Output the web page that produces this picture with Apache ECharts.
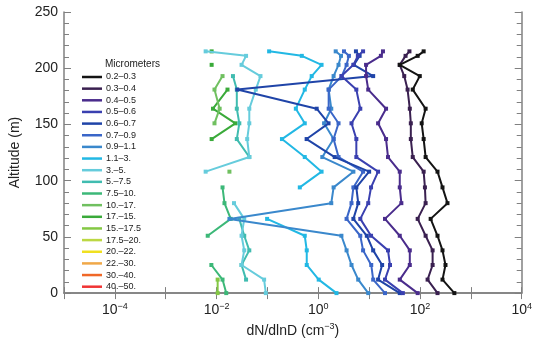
<!DOCTYPE html>
<html>
<head>
<meta charset="utf-8">
<script src="https://cdn.jsdelivr.net/npm/echarts@6/dist/echarts.min.js"></script>
<style>
  html, body { margin: 0; padding: 0; background: #fff; }
  #chart { width: 535px; height: 343px; }
</style>
</head>
<body>
<div id="chart"></div>
<script>
// altitude levels (m) shared by all size bins
const altitudes = [0, 12, 25, 38, 51, 66, 80, 94, 108, 121, 137, 151, 164, 181, 193, 203, 211, 215]

const bins = ['0.2–0.3', '0.3–0.4', '0.4–0.5', '0.5–0.6', '0.6–0.7', '0.7–0.9', '0.9–1.1', '1.1–3.', '3.–5.',
  '5.–7.5', '7.5–10.', '10.–17.', '17.–15.', '15.–17.5', '17.5–20.', '20.–22.', '22.–30.', '30.–40.', '40.–50.']

const colors = ['#141414', '#3a2050', '#4a2c8c', '#3a40b0', '#1f44a8', '#3a66c8', '#3a88cc', '#22b8e4', '#66ccdc',
  '#40bcb0', '#3cb878', '#70c060', '#3aaa3a', '#84c844', '#bcd844', '#f0e020', '#f0a848', '#f06828', '#f03434']

// dN/dlnD (cm-3), one value per altitude level, null = no sample
const bin02 = [474, 277, 317, 277, 221, 162, 347, 277, 221, 129, 118, 108, 129, 72, 99, 40, 90, 118]
const bin03 = [221, 141, 177, 177, 129, 90, 129, 125, 118, 72, 66, 66, 63, 57, 49, 40, 52, 62]
const bin04 = [90, 40, 63, 63, 40, 20.5, 43, 40, 40, 23.5, 21.5, 15, 21.5, 9.6, 8.7, 8.7, 17, 18.7]
const bin05 = [46, 20.5, 25.7, 23.5, 10.9, 6.7, 9.6, 10.9, 15, 5.6, 5.6, 4.5, 6.7, 5.6, 2.85, 4.9, 6, 7.6]
const bin06 = [40, 15, 18, 12, 9, 4.9, 6.1, 5.6, 10, 2.1, 0.59, 1.59, 0.93, 0.0256, 12, 5, 6.5, 5.5]
const bin07 = [20.5, 12, 11, 7.6, 6.7, 3.6, 4.5, 4.9, 7.6, 2.5, 2.0, 2.5, 1.6, 1.6, 2.9, 3.6, 4.0, 3.2]
const bin09 = [9.6, 6.1, 4.5, 3.6, 2.85, 0.0179, 1.8, 2.0, 4.9, 1.2, 2.0, 1.3, 1.8, 1.6, 2.0, 2.5, 2.8, 2.2]
const bin11 = [2.28, 1.02, 0.593, 0.593, 0.542, 0.0986, null, 0.433, 1.16, 0.542, 0.193, 0.542, 0.362, 0.542, 0.742, 1.16, 0.474, 0.108]
const bin3 = [0.093, 0.086, 0.031, 0.035, 0.031, 0.035, 0.022, null, 0.0061, 0.044, 0.040, 0.044, 0.044, 0.059, 0.073, 0.031, 0.038, 0.0061]
const bin5 = [null, 0.038, 0.031, 0.044, 0.035, 0.028, null, null, null, 0.044, 0.025, 0.028, 0.025, 0.025, 0.021, null, null, null]
const bin75 = [0.0155, 0.0131, 0.0079, null, 0.0067, 0.019, 0.0143, 0.0131, null, null, null, null, null, null, null, null, null, null]
const bin10 = [null, null, null, null, null, null, null, null, 0.0179, null, null, 0.0091, 0.0115, 0.0091, 0.0131, null, null, null]
const bin17 = [null, null, null, null, null, null, null, null, null, null, 0.008, 0.0234, 0.0085, 0.0164, null, 0.008, null, 0.008]
const bin15 = [0.0105, 0.0105, null, null, null, null, null, null, null, null, null, null, null, null, null, null, null, null]
const empty = []

const values = [bin02, bin03, bin04, bin05, bin06, bin07, bin09, bin11, bin3, bin5, bin75, bin10, bin17, bin15,
  empty, empty, empty, empty, empty]

const xLabels = { '-4': '−4', '-2': '−2', '0': '0', '2': '2', '4': '4' }

const font = 'Liberation Sans, Arial, sans-serif'
const chart = echarts.init(document.getElementById('chart'))

const series = bins.map((name, i) => ({
  name,
  type: 'line',
  data: values[i].length ? altitudes.map((a, k) => values[i][k] == null ? ['-', a] : [values[i][k], a]) : [],
  symbol: 'rect',
  symbolSize: 4,
  lineStyle: { width: 2, color: colors[i] },
  itemStyle: { color: colors[i] },
  showSymbol: true,
  animation: false,
  z: 2 + (bins.length - i)
}))

const logAxisBase = {
  type: 'log',
  logBase: 10,
  min: 1e-5,
  max: 1e4,
  axisLine: { show: true, lineStyle: { color: '#808080', width: 1.5 } },
  axisTick: { show: true, inside: true, length: 6, lineStyle: { color: '#808080' } },
  splitLine: { show: false },
  minorTick: { show: false }
}

chart.setOption({
  animation: false,
  grid: { left: 63, right: 10, top: 12, bottom: 44 },
  xAxis: [
    {
      ...logAxisBase,
      position: 'bottom',
      name: '{a|dN/dlnD (cm}{s|−3}{a|)}',
      nameLocation: 'middle',
      nameGap: 24,
      nameTextStyle: {
        rich: {
          a: { fontFamily: font, fontSize: 14, color: '#222' },
          s: { fontFamily: font, fontSize: 9, color: '#222', padding: [0, 0, 8, 0] }
        }
      },
      axisLabel: {
        margin: 9,
        formatter: v => {
          const e = Math.round(Math.log10(v))
          return xLabels[e] != null ? '{b|10}{s|' + xLabels[e] + '}' : ''
        },
        rich: {
          b: { fontFamily: font, fontSize: 14, color: '#222' },
          s: { fontFamily: font, fontSize: 9, color: '#222', padding: [0, 0, 8, 0] }
        }
      }
    },
    {
      ...logAxisBase,
      position: 'top',
      axisLabel: { show: false }
    }
  ],
  yAxis: [
    {
      type: 'value',
      min: 0,
      max: 250,
      interval: 50,
      position: 'left',
      name: 'Altitude (m)',
      nameLocation: 'middle',
      nameGap: 42,
      nameTextStyle: { fontFamily: font, fontSize: 14, color: '#222' },
      axisLine: { show: true, lineStyle: { color: '#808080', width: 1.5 } },
      axisTick: { show: true, inside: true, length: 7, lineStyle: { color: '#808080' } },
      minorTick: { show: true, splitNumber: 5, length: 5, lineStyle: { color: '#808080' } },
      axisLabel: { margin: 6, fontFamily: font, fontSize: 14, color: '#222' },
      splitLine: { show: false }
    },
    {
      type: 'value',
      min: 0,
      max: 250,
      interval: 50,
      position: 'right',
      axisLine: { show: true, lineStyle: { color: '#808080', width: 1.5 } },
      axisTick: { show: true, inside: true, length: 7, lineStyle: { color: '#808080' } },
      minorTick: { show: true, splitNumber: 5, length: 5, lineStyle: { color: '#808080' } },
      axisLabel: { show: false },
      splitLine: { show: false }
    }
  ],
  legend: {
    orient: 'vertical',
    left: 82,
    top: 72,
    padding: 0,
    icon: 'rect',
    itemWidth: 20,
    itemHeight: 2.5,
    itemGap: 1.65,
    data: bins.map((name, i) => ({ name, itemStyle: { color: colors[i] } })),
    textStyle: { fontFamily: font, fontSize: 9, color: '#222', lineHeight: 10, padding: [0, 0, 0, -1] },
    selectedMode: false
  },
  graphic: [{
    type: 'text',
    left: 105,
    top: 59,
    style: { text: 'Micrometers', font: '10px ' + font, fill: '#222' }
  }],
  series
})
</script>
</body>
</html>
